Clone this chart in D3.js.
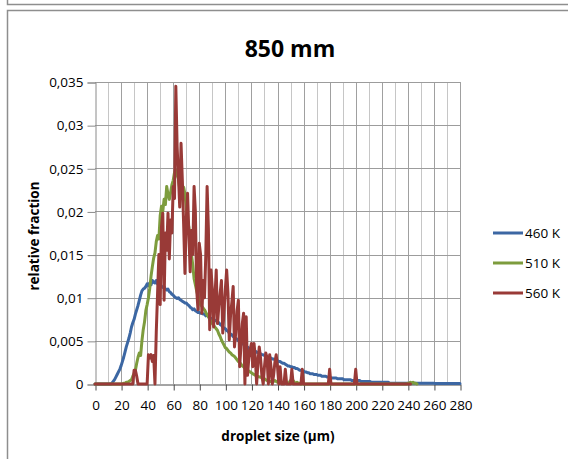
<!DOCTYPE html>
<html>
<head>
<meta charset="utf-8">
<script src="https://cdn.jsdelivr.net/npm/d3@7"></script>
<style>
  html, body { margin: 0; padding: 0; background: #fff; }
  svg { display: block; }
  text { font-family: "Open Sans", "Noto Sans", sans-serif; fill: #000; }
</style>
</head>
<body>
<svg id="chart" width="568" height="459"></svg>
<script>
// Droplet size distribution at 850 mm, 1 µm bins starting at 0 µm
const title = "850 mm";
const xTitle = "droplet size (µm)";
const yTitle = "relative fraction";
const binStart = 0;
const binWidth = 1;

const xTickValues = [0, 20, 40, 60, 80, 100, 120, 140, 160, 180, 200, 220, 240, 260, 280];
const yTickValues = [0, 0.005, 0.01, 0.015, 0.02, 0.025, 0.03, 0.035];
const yTickLabels = ["0", "0,005", "0,01", "0,015", "0,02", "0,025", "0,03", "0,035"];

const seriesNames = ["460 K", "510 K", "560 K"];
const seriesColors = ["#3c67a3", "#7d9c3d", "#993a37"];

const values460 = [
  0,0,0,0,0,0,0,0,0,0,0,0,0,
  0.0001,0.0003,0.0005,0.0008,0.0011,0.0014,0.0017,0.0021,0.0026,0.0031,0.0037,0.0043,0.0048,0.0053,0.0059,0.0066,0.0071,0.0075,0.0081,0.0086,0.0091,0.0097,0.0103,0.0108,
  0.0110,0.0111,0.0113,0.0116,0.0114,0.0117,0.0115,0.0120,0.0118,0.0117,0.0120,0.0116,0.0114,0.0116,0.0113,0.0112,0.0113,0.0110,0.0109,0.0110,0.0107,0.0106,0.0104,0.0103,
  0.0101,0.0100,0.0099,0.0100,0.0098,0.0097,0.0096,0.0095,0.0094,0.0094,0.0092,0.0091,0.0089,0.0088,0.0086,0.0087,0.0085,0.0084,0.0083,0.0083,
  0.0082,0.0082,0.0081,0.0081,0.0079,0.0080,0.0078,0.0077,0.0076,0.0076,0.0075,0.0074,0.0073,0.0072,0.0071,0.0069,0.0068,0.0066,0.0065,0.0064,
  0.0062,0.0061,0.0059,0.0058,0.0057,0.0055,0.0054,0.0053,0.0052,0.0050,0.0049,0.0048,0.0047,0.0046,0.0044,0.0043,0.0043,0.0041,0.0040,0.0040,
  0.0039,0.0038,0.0038,0.0037,0.0036,0.0036,0.0035,0.0034,0.0034,0.0033,0.0032,0.0032,0.0031,0.0030,0.0030,0.0029,0.0029,0.0028,0.0027,0.0027,
  0.0026,0.0026,0.0025,0.0024,0.0024,0.0023,0.0022,0.0021,0.0021,0.0020,0.0020,0.0019,0.0019,0.0018,0.0018,0.0017,0.0016,0.0016,0.0015,0.0015,
  0.0014,0.0014,0.0013,0.0013,0.0012,0.0012,0.0012,0.0011,0.0011,0.0011,0.0010,0.0010,0.0010,0.0009,0.0009,0.0009,0.0009,0.0008,0.0008,0.0008,
  0.0007,0.0007,0.0007,0.0007,0.0007,0.0006,0.0006,0.0006,0.0006,0.0006,0.0005,0.0005,0.0005,0.0005,0.0005,0.0005,0.0004,0.0004,0.0004,0.0004,
  0.0004,0.0004,0.0004,0.0003,0.0003,0.0003,0.0003,0.0003,0.0003,0.0003,0.0003,0.0002,0.0002,0.0002,0.0002,0.0002,0.0002,0.0002,0.0002,0.0002,
  0.0002,0.0002,0.0002,0.0002,0.0002,0.0001,0.0001,0.0001,0.0001,0.0001,0.0001,0.0001,0.0001,0.0001,0.0001,0.0001,0.0001,0.0001,0.0001,0.0001,
  0.0001,0.0001,0.0001,0.0001,0.0001,0.0001,0.0001,0.0001,0.0001,0.0001,0.0001,0.0001,0.0001,0.0001,0.0001,0.0001,0.0001,0.0001,0.0001,0.0001,
  0.00005,0.00005,0.00005,0.00005,0.00005,0.00005,0.00005,0.00005,0.00005,0.00005,0.00005,0.00005,0.00005,0.00005,0.00005,0.00005,0.00005,0.00005,0.00005,0.00005
];

const values510 = [
  0,0,0,0,0,0,0,0,0,0,0,0,0,0,0,0,0,0,0,0,0,0,
  0.0001,0.0001,0.0002,0.0002,0.0003,0.0004,0.0005,0.0009,0.0012,0.0016,0.0024,0.0031,0.0036,0.0033,0.0050,0.0063,0.0072,0.0085,0.0092,
  0.0100,0.0111,0.0125,0.0136,0.0146,0.0152,0.0165,0.0172,0.0168,0.0195,0.0206,0.0200,0.0214,0.0208,0.0229,0.0220,0.0214,0.0222,0.0231,0.0236,
  0.0245,0.0248,0.0242,0.0238,0.0226,0.0218,0.0224,0.0228,0.0220,0.0205,0.0190,0.0182,0.0168,0.0150,0.0138,0.0122,0.0115,0.0108,0.0102,0.0096,
  0.0092,0.0090,0.0088,0.0086,0.0083,0.0080,0.0078,0.0075,0.0072,0.0070,0.0068,0.0066,0.0064,0.0062,0.0058,0.0055,0.0051,0.0048,0.0045,0.0042,
  0.0041,0.0039,0.0037,0.0036,0.0034,0.0033,0.0032,0.0030,0.0028,0.0026,0.0025,0.0023,0.0021,0.0020,0.0018,0.0017,0.0016,0.0015,0.0014,0.0013,
  0.0012,0.0011,0.0010,0.0009,0.0009,0.0008,0.0008,0.0007,0.0006,0.0006,0.0005,0.0004,0.0004,0.0003,0.0003,0.0002,0.0003,0.0004,0.0003,0.0002,
  0.0003,0.0004,0.0002,0.0001,0.0002,0.0003,0.0001,0.0001,0.0002,0.0004,0.0005,0.0004,0.0002,0.0001,0.0002,0.0001,0.0001,0,0,0,
  0,0,0,0,0,0,0,0,0,0,0,0,0,0,0,0,0,0,0,0,
  0,0,0,0,0,0,0,0,0,0,0,0,0,0,0,0,0,0,0,0,
  0,0,0,0,0,0,0,0,0,0,0,0,0,0,0,0,0,0,0,0,
  0,0,0,0,0,0,0,0,0,0,0,0,0,0,0,0,0,0,0,0.0001,
  0.0001,0.0002,0.0001,0.0002,0.0001,0.0001,0
];

const values560 = [
  0,0,0,0,0,0,0,0,0,0,0,0,0,0,0,0,0,0,0,0,0,0,0,0,0,0,0,0,0,0,
  0.0016,0.0016,0.0009,0,0,0,0,0,0,0,0,0.0034,0.0030,0.0034,0.0026,0.0033,0,
  0.0060,0.0105,0.0150,0.0092,0.0182,0.0198,0.0097,0.0175,0.0155,0.0198,0.0145,0.0190,0.0175,0.0229,0.0215,0.0345,0.0275,0.0240,0.0205,0.0279,
  0.0236,0.0185,0.0128,0.0190,0.0221,0.0175,0.0130,0.0178,0.0150,0.0229,0.0200,0.0110,0.0086,0.0163,0.0150,0.0082,0.0120,0.0100,0.0150,0.0229,
  0.0180,0.0063,0.0132,0.0110,0.0066,0.0100,0.0132,0.0070,0.0090,0.0105,0.0120,0.0059,0.0085,0.0110,0.0132,0.0105,0.0051,0.0080,0.0095,0.0113,
  0.0043,0.0060,0.0085,0.0097,0.0020,0.0045,0.0070,0.0082,0,0.0078,0.0010,0.0030,0.0040,0.0047,0.0020,0.0047,0.0030,0,0.0025,0.0043,
  0.0030,0.0010,0,0.0020,0.0036,0.0030,0,0.0034,0.0020,0,0.0010,0.0025,0.0034,0.0020,0,0.0020,0,0,0,0.0017,
  0,0,0,0,0.0017,0,0,0,0,0,0,0,0.0017,0,0,0,0,0,0,0,
  0,0,0,0,0,0,0,0,0,0,0,0,0,0.0017,0,0,0,0,0,0,
  0,0,0,0,0,0,0,0,0,0,0,0,0,0.0017,0,0,0,0,0,0,
  0,0,0,0,0,0,0,0,0,0,0,0,0,0,0,0,0,0,0,0,
  0,0,0,0,0,0,0,0,0,0,0,0,0,0,0,0
];

const seriesValues = [values460, values510, values560];

const svg = d3.select("#chart");
const W = 568, H = 459;
const plot = { left: 95, right: 460, top: 82, bottom: 384 };

// outer frames
const frame = svg.append("g").attr("fill", "none").attr("stroke", "#8e8e8e").attr("stroke-width", 1.5);
frame.append("path").attr("d", `M7.5,0 V4.5 H${W}`);
frame.append("path").attr("d", `M7.5,${H} V10.5 H${W}`);

const x = d3.scaleLinear().domain([0, 280]).range([plot.left, plot.right]);
const y = d3.scaleLinear().domain([0, 0.035]).range([plot.bottom, plot.top]);

// vertical gridlines every 10 µm
const xGrid = d3.range(10, 281, 10);
svg.append("g").selectAll("line").data(xGrid).join("line")
  .attr("x1", d => Math.round(x(d)) + 0.5).attr("x2", d => Math.round(x(d)) + 0.5)
  .attr("y1", plot.top).attr("y2", plot.bottom)
  .attr("stroke", d => d % 20 === 0 ? "#a0a0a0" : "#c6c6c6")
  .attr("stroke-width", 1);

// horizontal gridlines
svg.append("g").selectAll("line").data(yTickValues.slice(1)).join("line")
  .attr("x1", plot.left).attr("x2", plot.right)
  .attr("y1", d => Math.round(y(d)) + 0.5).attr("y2", d => Math.round(y(d)) + 0.5)
  .attr("stroke", "#9c9c9c").attr("stroke-width", 1);

// y axis
const yAxis = d3.axisLeft(y).tickValues(yTickValues)
  .tickFormat((d, i) => yTickLabels[i]).tickSize(8).tickPadding(4);
const gy = svg.append("g").attr("transform", `translate(${plot.left + 0.5},0.5)`).call(yAxis);
gy.select(".domain").attr("stroke", "#8a8a8a");
gy.selectAll(".tick line").attr("stroke", "#8a8a8a");
gy.selectAll(".tick text").attr("font-size", 13.5).attr("font-family", "Open Sans").attr("fill", "#000");

// x axis
const xAxis = d3.axisBottom(x).tickValues(xTickValues).tickSizeInner(6).tickSizeOuter(0).tickPadding(10);
const gx = svg.append("g").attr("transform", `translate(0.5,${plot.bottom + 0.5})`).call(xAxis);
gx.select(".domain").attr("stroke", "#4a4a4a");
gx.selectAll(".tick line").attr("stroke", "#4a4a4a");
gx.selectAll(".tick text").attr("font-size", 13.5).attr("font-family", "Open Sans").attr("fill", "#000");

// series lines
const line = d3.line()
  .x((d, i) => x(binStart + i * binWidth))
  .y(d => y(d));

svg.append("g").selectAll("path").data(seriesValues).join("path")
  .attr("d", d => line(d))
  .attr("fill", "none")
  .attr("stroke", (d, i) => seriesColors[i])
  .attr("stroke-width", 3)
  .attr("stroke-linejoin", "round")
  .attr("stroke-linecap", "round");

// titles
svg.append("text").attr("x", 290).attr("y", 57).attr("text-anchor", "middle")
  .attr("font-size", 23).attr("font-weight", "bold").text(title);
svg.append("text").attr("x", 278).attr("y", 441).attr("text-anchor", "middle")
  .attr("font-size", 13.5).attr("font-weight", "bold").text(xTitle);
svg.append("text").attr("transform", "translate(39,236) rotate(-90)").attr("text-anchor", "middle")
  .attr("font-size", 13.5).attr("font-weight", "bold").text(yTitle);

// legend
const legendY = [233, 263, 293];
const lg = svg.append("g").selectAll("g").data(seriesNames).join("g")
  .attr("transform", (d, i) => `translate(493,${legendY[i]})`);
lg.append("line").attr("x1", 0).attr("x2", 30).attr("y1", 0).attr("y2", 0)
  .attr("stroke", (d, i) => seriesColors[i]).attr("stroke-width", 3);
lg.append("text").attr("x", 32).attr("y", 0).attr("dy", "0.35em")
  .attr("font-size", 13.5).text(d => d);
</script>
</body>
</html>
